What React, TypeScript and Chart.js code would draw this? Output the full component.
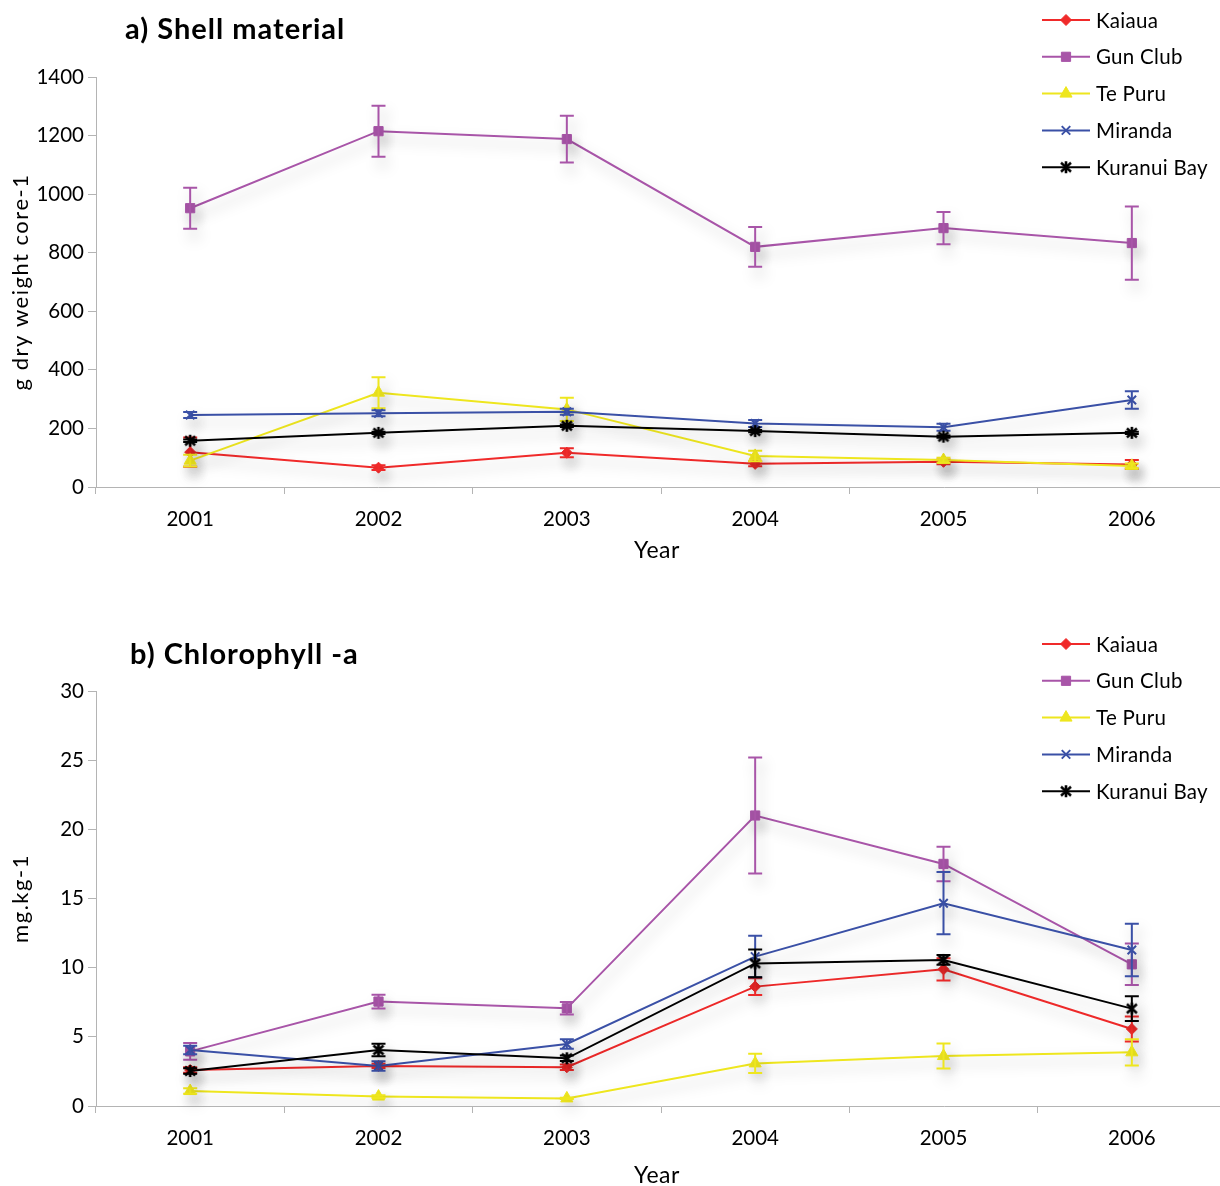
import React, { useEffect, useRef } from 'react';
import { Chart, registerables, PointElement } from 'chart.js';

Chart.register(...registerables);

const years = ['2001', '2002', '2003', '2004', '2005', '2006'];
const seriesNames = ['Kaiaua', 'Gun Club', 'Te Puru', 'Miranda', 'Kuranui Bay'];

// a) Shell material (g dry weight core-1)
const shellKaiaua = [119, 66, 117, 79, 86, 77];
const shellKaiauaErr = [50, 8, 15, 8, 8, 15];
const shellGunClub = [952, 1215, 1188, 820, 884, 833];
const shellGunClubErr = [70, 87, 80, 68, 55, 125];
const shellTePuru = [90, 322, 265, 106, 92, 72];
const shellTePuruErr = [20, 53, 40, 18, 8, 8];
const shellMiranda = [246, 252, 257, 217, 204, 297];
const shellMirandaErr = [10, 10, 10, 12, 12, 30];
const shellKuranui = [158, 185, 209, 191, 172, 185];
const shellKuranuiErr = [4, 4, 4, 4, 4, 4];
const shellTicks = { min: 0, max: 1400, step: 200 };

// b) Chlorophyll -a (mg.kg-1)
const chlKaiaua = [2.6, 2.9, 2.8, 8.63, 9.88, 5.57];
const chlKaiauaErr = [0.2, 0.15, 0.2, 0.6, 0.8, 0.9];
const chlGunClub = [3.95, 7.55, 7.06, 21.0, 17.5, 10.24];
const chlGunClubErr = [0.6, 0.5, 0.45, 4.2, 1.25, 1.5];
const chlTePuru = [1.08, 0.68, 0.55, 3.08, 3.61, 3.88];
const chlTePuruErr = [0.2, 0.1, 0.05, 0.7, 0.9, 0.95];
const chlMiranda = [4.05, 2.89, 4.48, 10.8, 14.66, 11.28];
const chlMirandaErr = [0.3, 0.35, 0.35, 1.5, 2.25, 1.9];
const chlKuranui = [2.53, 4.05, 3.45, 10.31, 10.56, 7.04];
const chlKuranuiErr = [0.2, 0.45, 0.2, 1.0, 0.35, 0.9];
const chlTicks = { min: 0, max: 30, step: 5 };

const colors = ['#F02A2A', '#A855A8', '#EEE61E', '#3A50A6', '#000000'];
const FONT = 'Lato';

let starCanvas: HTMLCanvasElement | null = null;
function getStar(): HTMLCanvasElement {
  if (starCanvas) return starCanvas;
  const c = document.createElement('canvas');
  c.width = 14;
  c.height = 14;
  const g = c.getContext('2d')!;
  g.strokeStyle = '#000';
  g.lineWidth = 2.6;
  g.beginPath();
  g.moveTo(7, 1);
  g.lineTo(7, 13);
  g.moveTo(2, 2.6);
  g.lineTo(12, 11.4);
  g.moveTo(12, 2.6);
  g.lineTo(2, 11.4);
  g.stroke();
  starCanvas = c;
  return c;
}

function pointStyleFor(i: number): any {
  return ['rectRot', 'rect', 'triangle', 'crossRot', getStar()][i];
}
const radii = [5.5, 6.5, 7, 6, 7];

function setSpacing(ctx: any, px: number) {
  if ('letterSpacing' in ctx) ctx.letterSpacing = px + 'px';
}

const decorPlugin = {
  id: 'decor',
  beforeDatasetDraw(chart: any) {
    const ctx = chart.ctx;
    ctx.save();
    ctx.shadowColor = 'rgba(0,0,0,0.25)';
    ctx.shadowBlur = 14;
    ctx.shadowOffsetX = 4;
    ctx.shadowOffsetY = 8;
  },
  afterDatasetDraw(chart: any, args: any) {
    const ctx = chart.ctx;
    const ds = chart.data.datasets[args.index];
    const yScale = chart.scales.y;
    ctx.strokeStyle = ds.borderColor;
    ctx.lineWidth = 2;
    args.meta.data.forEach((pt: any, i: number) => {
      const v = ds.data[i];
      const e = ds.errors[i];
      const x = pt.x;
      const y1 = yScale.getPixelForValue(v + e);
      const y2 = yScale.getPixelForValue(v - e);
      ctx.beginPath();
      ctx.moveTo(x, y1);
      ctx.lineTo(x, y2);
      ctx.moveTo(x - 7, y1);
      ctx.lineTo(x + 7, y1);
      ctx.moveTo(x - 7, y2);
      ctx.lineTo(x + 7, y2);
      ctx.stroke();
    });
    ctx.restore();
  },
  afterDraw(chart: any, _args: any, opts: any) {
    const ctx = chart.ctx;
    const area = chart.chartArea;
    ctx.save();
    ctx.fillStyle = '#000';
    // chart title
    ctx.font = `bold 29px ${FONT}`;
    setSpacing(ctx, 1);
    ctx.textAlign = 'left';
    ctx.textBaseline = 'alphabetic';
    ctx.fillText(opts.title, opts.titleX, opts.titleY);
    // x title
    ctx.font = `23px ${FONT}`;
    setSpacing(ctx, 0.5);
    ctx.textAlign = 'center';
    ctx.textBaseline = 'middle';
    ctx.fillText(opts.xTitle, 657, opts.xTitleY);
    // y title
    ctx.save();
    ctx.translate(21, (area.top + area.bottom) / 2);
    ctx.rotate(-Math.PI / 2);
    ctx.font = `22px ${FONT}`;
    setSpacing(ctx, 1.5);
    ctx.fillText(opts.yTitle, 0, 0);
    ctx.restore();
    // legend
    setSpacing(ctx, 0.3);
    chart.data.datasets.forEach((ds: any, i: number) => {
      const y = opts.legendY + i * 36.8;
      ctx.strokeStyle = ds.borderColor;
      ctx.lineWidth = 2;
      ctx.beginPath();
      ctx.moveTo(1042, y);
      ctx.lineTo(1090, y);
      ctx.stroke();
      const p: any = new PointElement({} as any);
      p.x = 1066;
      p.y = y;
      p.options = {
        pointStyle: ds.pointStyle,
        radius: ds.pointRadius,
        rotation: 0,
        borderWidth: ds.pointBorderWidth,
        backgroundColor: ds.pointBackgroundColor,
        borderColor: ds.pointBorderColor,
      };
      p.draw(ctx);
      ctx.fillStyle = '#000';
      ctx.font = `20.5px ${FONT}`;
      ctx.textAlign = 'left';
      ctx.textBaseline = 'middle';
      ctx.fillText(ds.label, 1096, y + 1);
    });
    ctx.restore();
  },
};

function buildDatasets(values: number[][], errs: number[][]) {
  return values.map((vals, i) => {
    const isLineMarker = i === 3;
    return {
      label: seriesNames[i],
      data: vals,
      errors: errs[i],
      borderColor: colors[i],
      backgroundColor: colors[i],
      borderWidth: 2,
      tension: 0,
      pointStyle: pointStyleFor(i),
      pointRadius: radii[i],
      pointHoverRadius: radii[i],
      pointBorderWidth: isLineMarker ? 2 : 1,
      pointBackgroundColor: colors[i],
      pointBorderColor: colors[i],
      order: 4 - i,
    };
  });
}

interface PanelProps {
  height: number;
  values: number[][];
  errs: number[][];
  ticks: { min: number; max: number; step: number };
  top: number;
  xHeight: number;
  title: string;
  titleX: number;
  titleY: number;
  xTitleY: number;
  yTitle: string;
  legendY: number;
}

function Panel(props: PanelProps) {
  const ref = useRef<HTMLCanvasElement>(null);
  useEffect(() => {
    if (!ref.current) return;
    Chart.defaults.font.family = FONT;
    const chart = new Chart(ref.current, {
      type: 'line',
      data: { labels: years, datasets: buildDatasets(props.values, props.errs) as any },
      options: {
        responsive: false,
        animation: false,
        devicePixelRatio: 1,
        layout: { padding: { top: props.top, left: 0, right: 0, bottom: 0 } },
        plugins: {
          legend: { display: false },
          tooltip: { enabled: false },
          title: { display: false },
          decor: {
            title: props.title,
            titleX: props.titleX,
            titleY: props.titleY,
            xTitle: 'Year',
            xTitleY: props.xTitleY,
            yTitle: props.yTitle,
            legendY: props.legendY,
          },
        } as any,
        scales: {
          x: {
            offset: true,
            ticks: { color: '#000', font: { size: 20.5, family: FONT }, padding: 13, maxRotation: 0 },
            grid: { offset: true, drawOnChartArea: false, tickLength: 7, color: '#b4b4b4' },
            border: { color: '#b4b4b4', width: 1 },
            afterFit: (s: any) => {
              s.height = props.xHeight;
            },
          },
          y: {
            min: props.ticks.min,
            max: props.ticks.max,
            ticks: {
              stepSize: props.ticks.step,
              color: '#000',
              font: { size: 20.5, family: FONT },
              padding: 4,
              callback: (v: any) => String(v),
            },
            grid: { drawOnChartArea: false, tickLength: 8, color: '#b4b4b4' },
            border: { color: '#b4b4b4', width: 1 },
            afterFit: (s: any) => {
              s.width = 96;
            },
          },
        },
      },
      plugins: [decorPlugin as any],
    });
    return () => chart.destroy();
  }, []);
  return (
    <div style={{ width: 1220, height: props.height, overflow: 'hidden' }}>
      <canvas ref={ref} width={1234} height={props.height} style={{ display: 'block' }} />
    </div>
  );
}

export default function App() {
  useEffect(() => {
    document.body.style.margin = '0';
    document.body.style.overflow = 'hidden';
    document.body.style.background = '#fff';
  }, []);
  return (
    <div style={{ width: 1220, background: '#fff' }}>
      <Panel
        height={600}
        values={[shellKaiaua, shellGunClub, shellTePuru, shellMiranda, shellKuranui]}
        errs={[shellKaiauaErr, shellGunClubErr, shellTePuruErr, shellMirandaErr, shellKuranuiErr]}
        ticks={shellTicks}
        top={77}
        xHeight={113}
        title="a) Shell material"
        titleX={125}
        titleY={39}
        xTitleY={551}
        yTitle="g dry weight core-1"
        legendY={20}
      />
      <Panel
        height={586}
        values={[chlKaiaua, chlGunClub, chlTePuru, chlMiranda, chlKuranui]}
        errs={[chlKaiauaErr, chlGunClubErr, chlTePuruErr, chlMirandaErr, chlKuranuiErr]}
        ticks={chlTicks}
        top={91}
        xHeight={80}
        title="b) Chlorophyll -a"
        titleX={130}
        titleY={64}
        xTitleY={576}
        yTitle="mg.kg-1"
        legendY={44}
      />
    </div>
  );
}
